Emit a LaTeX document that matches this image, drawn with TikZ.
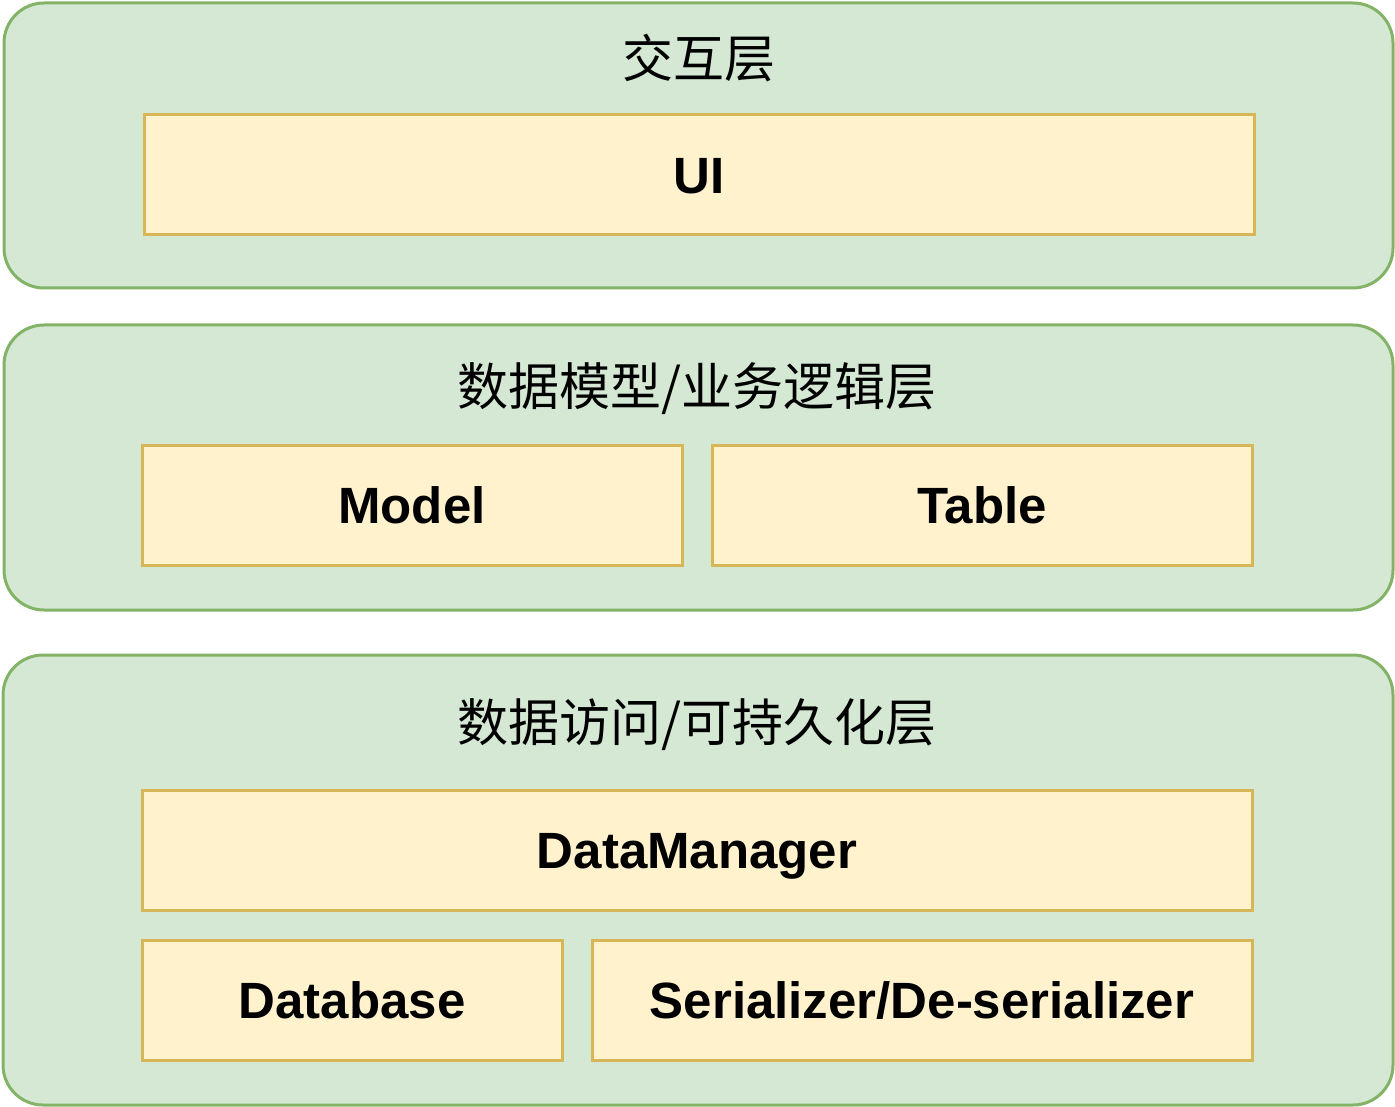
\documentclass[tikz,border=0pt]{standalone}
\usepackage{fontspec}
\setmainfont{Liberation Sans}
\newfontfamily\cjk{Noto Sans CJK SC}
\definecolor{gfill}{HTML}{D5E8D4}
\definecolor{gline}{HTML}{82B366}
\definecolor{yfill}{HTML}{FFF2CC}
\definecolor{yline}{HTML}{D6B656}
\begin{document}
\begin{tikzpicture}[x=1pt,y=-1pt,
  layer/.style={draw=gline,fill=gfill,line width=3pt,rounded corners=40pt,inner sep=0pt},
  comp/.style={draw=yline,fill=yfill,line width=3pt,inner sep=0pt,text height=36.5pt,text depth=0pt,font=\fontsize{51}{61}\selectfont\bfseries},
  ttl/.style={inner sep=0pt,font=\fontsize{51}{61}\selectfont\cjk}]
\useasboundingbox (0,0) rectangle (1395,1107);
\node[layer,minimum width=1389pt,minimum height=285pt] (l1) at (698.5,145.5) {};
\node[layer,minimum width=1389pt,minimum height=285pt] (l2) at (698.5,467.5) {};
\node[layer,minimum width=1390pt,minimum height=450pt] (l3) at (698,880) {};
\node[ttl] (t1) at (699,58) {交互层};
\node[ttl] (t2) at (697,389) {数据模型/业务逻辑层};
\node[ttl] (t3) at (697,725) {数据访问/可持久化层};
\node[comp,minimum width=1110pt,minimum height=120pt] (ui) at (699,175) {UI};
\node[comp,minimum width=540pt,minimum height=120pt] (model) at (412,505) {Model};
\node[comp,minimum width=540pt,minimum height=120pt] (table) at (982,505) {Table};
\node[comp,minimum width=1110pt,minimum height=120pt] (dm) at (697,850) {DataManager};
\node[comp,minimum width=420pt,minimum height=120pt] (db) at (352,1000) {Database};
\node[comp,minimum width=660pt,minimum height=120pt] (ser) at (922,1000) {Serializer/De-serializer};
\end{tikzpicture}
\end{document}
